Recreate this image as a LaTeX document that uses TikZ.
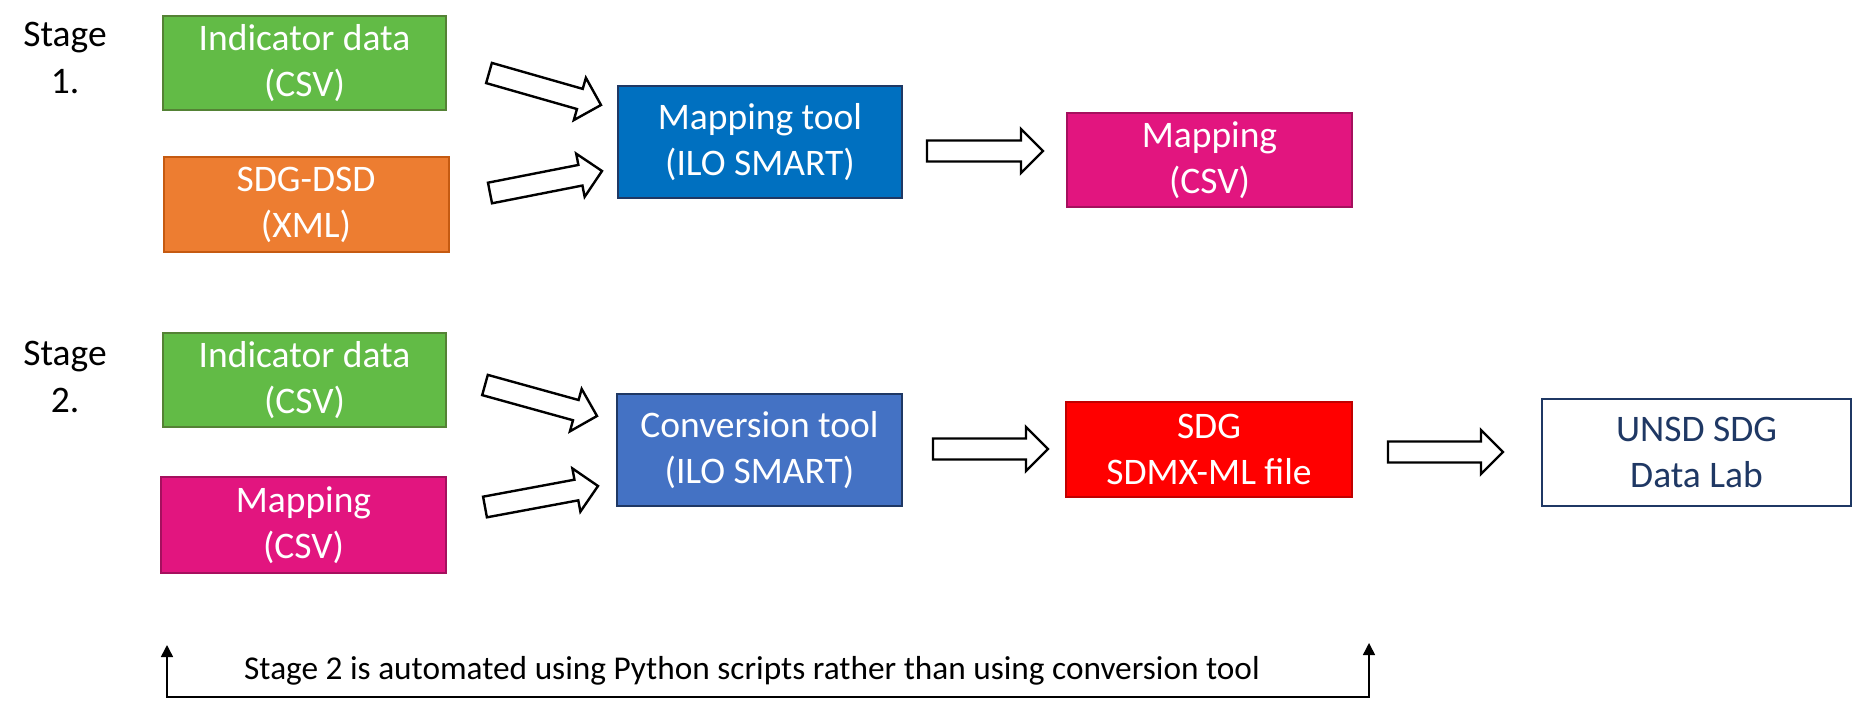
\documentclass[tikz,border=0pt]{standalone}
\usepackage{fontspec}
\setmainfont{Carlito}
\usetikzlibrary{calc,arrows.meta}
\definecolor{cgreen}{HTML}{62BB46}
\definecolor{cgreenb}{HTML}{548235}
\definecolor{corange}{HTML}{ED7D31}
\definecolor{coranged}{HTML}{C55A11}
\definecolor{cblue}{HTML}{0070C0}
\definecolor{cconv}{HTML}{4472C4}
\definecolor{cnavy}{HTML}{1F3864}
\definecolor{cpink}{HTML}{E2157F}
\definecolor{cpinkb}{HTML}{A5105E}
\definecolor{cred}{HTML}{FF0000}
\definecolor{credb}{HTML}{C00000}
\newcommand{\blockarr}[2]{%
  \coordinate (bb) at ($(#2)!22pt!(#1)$);
  \draw[barrow] ($(#1)!10.5pt!90:(#2)$) -- ($(bb)!10.5pt!90:(#2)$) -- ($(bb)!22pt!90:(#2)$) -- (#2)
    -- ($(bb)!22pt!-90:(#2)$) -- ($(bb)!10.5pt!-90:(#2)$) -- ($(#1)!10.5pt!-90:(#2)$) -- cycle;}
\begin{document}
\begin{tikzpicture}[x=1pt,y=-1pt,
  box/.style={draw, line width=2pt, text=white, align=center, inner sep=0pt,
    font=\fontsize{37.5}{46}\selectfont},
  lbl/.style={align=center, inner sep=0pt, font=\fontsize{37.5}{47}\selectfont},
  note/.style={inner sep=0pt, font=\fontsize{33.3}{40}\selectfont},
  barrow/.style={draw=black, fill=white, line width=2.4pt, line join=miter},
]
\useasboundingbox (0,0) rectangle (1852,711);
% stage labels
\node[lbl] (s1) at (65,58) {Stage\\1.};
\node[lbl] (s2) at (65,377) {Stage\\2.};
% stage 1 boxes
\node[box, fill=cgreen, draw=cgreenb, minimum width=283, minimum height=94] (ind1) at (304.5,63) {Indicator data\\(CSV)};
\node[box, fill=corange, draw=coranged, minimum width=285, minimum height=95] (dsd) at (306,204.5) {SDG-DSD\\(XML)};
\node[box, fill=cblue, draw=cnavy, minimum width=284, minimum height=112] (map) at (760,142) {Mapping tool\\(ILO SMART)};
\node[box, fill=cpink, draw=cpinkb, minimum width=285, minimum height=94] (mapcsv1) at (1209.5,160) {Mapping\\(CSV)};
% stage 2 boxes
\node[box, fill=cgreen, draw=cgreenb, minimum width=283, minimum height=94] (ind2) at (304.5,380) {Indicator data\\(CSV)};
\node[box, fill=cpink, draw=cpinkb, minimum width=285, minimum height=96] (mapcsv2) at (303.5,525) {Mapping\\(CSV)};
\node[box, fill=cconv, draw=cnavy, minimum width=285, minimum height=112] (conv) at (759.5,450) {Conversion tool\\(ILO SMART)};
\node[box, fill=cred, draw=credb, minimum width=286, minimum height=95] (sdmx) at (1209,449.5) {SDG\\SDMX-ML file};
\node[box, fill=white, draw=cnavy, text=cnavy, minimum width=309, minimum height=107] (unsd) at (1696.5,452.5) {UNSD SDG\\Data Lab};
% block arrow end points
\coordinate (a1t) at (489,73);  \coordinate (a1h) at (601,105);
\coordinate (a2t) at (490,193); \coordinate (a2h) at (602,171);
\coordinate (a3t) at (927,151); \coordinate (a3h) at (1043,151);
\coordinate (a4t) at (485,385); \coordinate (a4h) at (597,416);
\coordinate (a5t) at (485,507); \coordinate (a5h) at (598,486);
\coordinate (a6t) at (933,449); \coordinate (a6h) at (1048,449);
\coordinate (a7t) at (1388,452); \coordinate (a7h) at (1503,452);
\blockarr{a1t}{a1h}
\blockarr{a2t}{a2h}
\blockarr{a3t}{a3h}
\blockarr{a4t}{a4h}
\blockarr{a5t}{a5h}
\blockarr{a6t}{a6h}
\blockarr{a7t}{a7h}
% bottom bracket
\coordinate (bl) at (167,645);
\coordinate (bc) at (167,697);
\coordinate (br) at (1369,643);
\draw[line width=1.5pt, {Triangle[width=12pt,length=12pt]}-{Triangle[width=12pt,length=12pt]}] (bl) -- (bc) -| (br);
\node[note] (txt) at (752,671) {Stage 2 is automated using Python scripts rather than using conversion tool};
\end{tikzpicture}
\end{document}
